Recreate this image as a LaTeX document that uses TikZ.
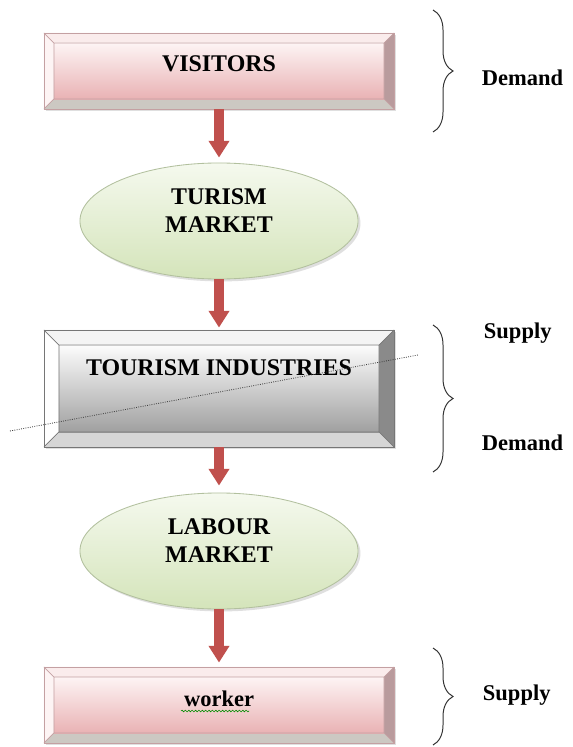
\documentclass[tikz,border=0pt]{standalone}
\usepackage{fontspec}
\setmainfont{Liberation Serif}
\usetikzlibrary{calc,arrows.meta,shapes.geometric,shadows,decorations.pathreplacing,decorations.pathmorphing}

\definecolor{arrowred}{RGB}{192,80,77}
\definecolor{pinktop}{RGB}{253,244,244}
\definecolor{pinkbottom}{RGB}{233,178,180}
\definecolor{pinklight}{RGB}{250,236,236}
\definecolor{pinkdark}{RGB}{185,155,157}
\definecolor{pinkgray}{RGB}{204,200,194}
\definecolor{pinkedge}{RGB}{196,160,162}
\definecolor{graytop}{RGB}{252,252,252}
\definecolor{graybottom}{RGB}{160,160,160}
\definecolor{graylight}{RGB}{244,244,244}
\definecolor{graymid}{RGB}{214,214,214}
\definecolor{graydark}{RGB}{138,138,138}
\definecolor{grayedge}{RGB}{118,118,118}
\definecolor{greentop}{RGB}{245,249,238}
\definecolor{greenbottom}{RGB}{212,228,186}
\definecolor{greenedge}{RGB}{178,192,158}

% bevel: width, top, left, right, bottom, face top, face bottom, edge
\newcommand{\bevelfill}[8]{%
  \coordinate (bnw) at (path picture bounding box.north west);
  \coordinate (bne) at (path picture bounding box.north east);
  \coordinate (bsw) at (path picture bounding box.south west);
  \coordinate (bse) at (path picture bounding box.south east);
  \coordinate (inw) at ($(bnw)+(#1,-#1)$);
  \coordinate (ine) at ($(bne)+(-#1,-#1)$);
  \coordinate (isw) at ($(bsw)+(#1,#1)$);
  \coordinate (ise) at ($(bse)+(-#1,#1)$);
  \fill[#2] (bnw) -- (bne) -- (ine) -- (inw) -- cycle;
  \fill[#3] (bnw) -- (inw) -- (isw) -- (bsw) -- cycle;
  \fill[#4] (bne) -- (bse) -- (ise) -- (ine) -- cycle;
  \fill[#5] (bsw) -- (isw) -- (ise) -- (bse) -- cycle;
  \shade[top color=#6, bottom color=#7] (inw) rectangle (ise);
  \draw[#8, line width=0.5pt] (inw) rectangle (ise)
    (bnw) -- (inw) (bne) -- (ine) (bsw) -- (isw) (bse) -- (ise);
}

\tikzset{
  boxshadow/.style={drop shadow={shadow xshift=0.06cm, shadow yshift=-0.06cm, opacity=0.25}},
  pinkbox/.style={rectangle, draw=pinkedge, line width=0.6pt, boxshadow,
    minimum width=8.75cm, minimum height=1.9cm,
    path picture={\bevelfill{0.25cm}{pinklight}{pinktop}{pinkdark}{pinkgray}{pinktop}{pinkbottom}{pinkedge}}},
  graybox/.style={rectangle, draw=grayedge, line width=0.6pt, boxshadow,
    minimum width=8.75cm, minimum height=2.925cm,
    path picture={\bevelfill{0.375cm}{graylight}{white}{graydark}{graymid}{graytop}{graybottom}{grayedge}}},
  marketoval/.style={ellipse, draw=greenedge, line width=0.6pt, boxshadow,
    top color=greentop, bottom color=greenbottom,
    minimum width=6.95cm, minimum height=2.9cm, align=center,
    font=\fontsize{17}{20}\selectfont\bfseries, text depth=0.5cm},
  flowarrow/.style={arrowred, line width=0.25cm, -{Triangle[width=0.5cm,length=0.42cm]}},
  sidebrace/.style={draw=black!80, line width=0.7pt, decorate,
    decoration={brace, amplitude=0.5cm}},
  sidelabel/.style={anchor=west, font=\fontsize{16}{19}\selectfont\bfseries}
}

\begin{document}
\begin{tikzpicture}[x=0.025cm, y=-0.025cm]
    \fill[white] (0,0) rectangle (572,747);
    \useasboundingbox (0,0) rectangle (572,747);

    % Visitors box
    \node[pinkbox, font=\fontsize{17}{20}\selectfont\bfseries, text depth=0.35cm] (visitors) at (219,71) {VISITORS};

    % Tourism market
    \node[marketoval] (turism) at (219,221) {TURISM\\MARKET};

    % Tourism industries box
    \node[graybox, font=\fontsize{17}{20}\selectfont\bfseries, text depth=1.07cm] (industries) at (219,388.5) {TOURISM INDUSTRIES};

    % Labour market
    \node[marketoval] (labour) at (219,551) {LABOUR\\MARKET};

    % Worker box
    \node[pinkbox, font=\fontsize{16}{19}\selectfont\bfseries, text depth=0.3cm] (worker) at (219,705) {worker};
    \draw[green!55!black, line width=0.4pt, decorate,
      decoration={snake, amplitude=0.6pt, segment length=2.4pt}] (181,711) -- (249,711);

    % Arrows
    \draw[flowarrow, shorten >=0.125cm] (visitors.south) -- (turism.north);
    \draw[flowarrow, shorten >=0.05cm] (turism.south) -- (industries.north);
    \draw[flowarrow, shorten >=0.175cm] (industries.south) -- (labour.north);
    \draw[flowarrow, shorten >=0.1cm] (labour.south) -- (worker.north);

    % Dotted split line
    \draw[densely dotted, black!75, line width=0.6pt] (10,431) -- (418,355);

    % Braces
    \coordinate (brace1 top) at (433,10);
    \coordinate (brace1 bottom) at (433,132);
    \coordinate (brace2 top) at (433,325);
    \coordinate (brace2 bottom) at (433,472);
    \coordinate (brace3 top) at (433,648);
    \coordinate (brace3 bottom) at (433,745);
    \draw[sidebrace] (brace1 top) -- (brace1 bottom);
    \draw[sidebrace] (brace2 top) -- (brace2 bottom);
    \draw[sidebrace] (brace3 top) -- (brace3 bottom);

    % Labels
    \node[sidelabel] (demand1) at (477,78) {Demand};
    \node[sidelabel] (supply1) at (479,333) {Supply};
    \node[sidelabel] (demand2) at (477,443) {Demand};
    \node[sidelabel] (supply2) at (478,695) {Supply};
\end{tikzpicture}
\end{document}
